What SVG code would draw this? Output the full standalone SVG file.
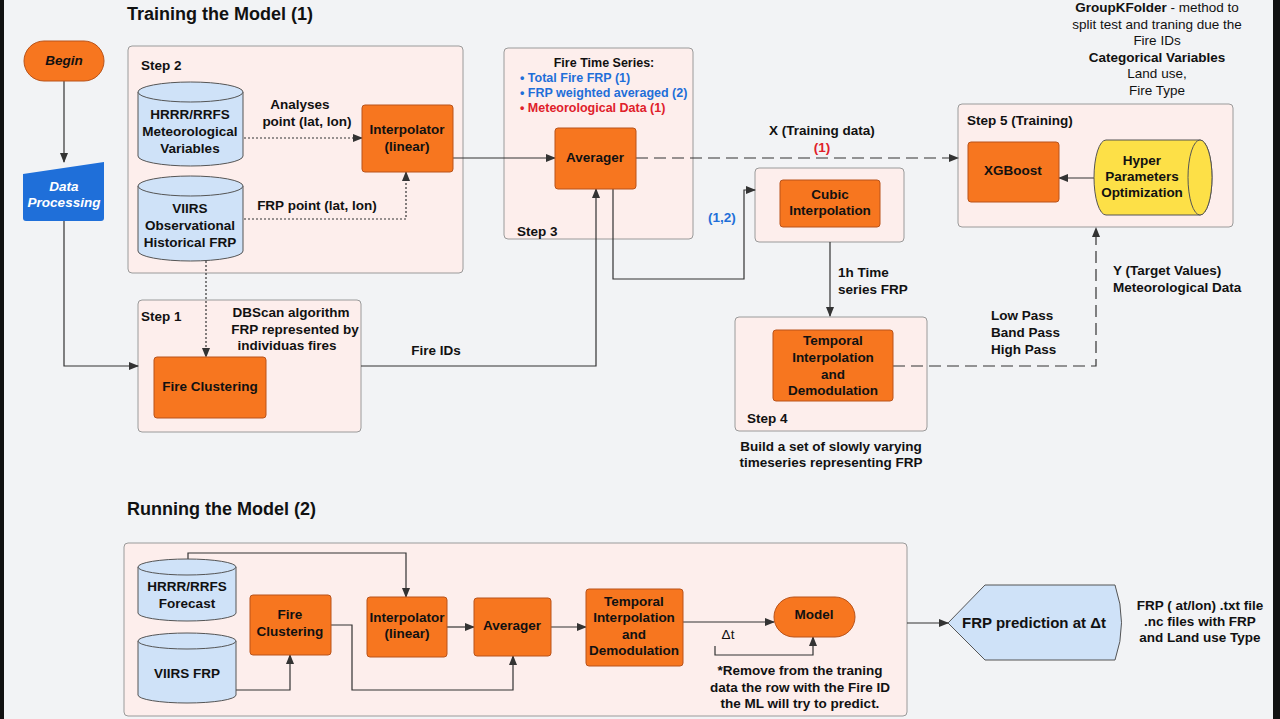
<svg xmlns="http://www.w3.org/2000/svg" width="1280" height="719" viewBox="0 0 1280 719">
<style>
text{font-family:"Liberation Sans",Arial,sans-serif;font-weight:bold;font-size:13.5px;fill:#111}
.c{text-anchor:middle}
text.n,tspan.n{font-weight:normal}
.box{fill:#fdeeec;stroke:#9a9a9a;stroke-width:1}
.or{fill:#f7761f;stroke:#b9531a;stroke-width:1}
.cy{fill:#cfe2f8;stroke:#555;stroke-width:1}
.ln{fill:none;stroke:#333;stroke-width:1.2}
.dot{stroke-dasharray:2 2}
.dash{stroke-dasharray:12 6}
text.t{font-size:18px}
text.s{font-size:12.5px}
</style>
<defs>
<marker id="a" markerWidth="10" markerHeight="8" refX="9" refY="4" orient="auto" markerUnits="userSpaceOnUse"><path d="M0,0 L10,4 L0,8 z" fill="#333"/></marker>
</defs>
<rect width="1280" height="719" fill="#f2f3f5"/>
<rect x="0" y="0" width="4" height="719" fill="#111"/>
<rect x="1273" y="0" width="7" height="719" fill="#111"/>

<text class="t" x="127" y="20">Training the Model (1)</text>
<text class="t" x="127" y="515">Running the Model (2)</text>

<g id="step2"><rect class="box" x="128" y="46" width="335" height="227" rx="4"/><text x="141" y="70">Step 2</text></g>
<g id="step3"><rect class="box" x="504" y="48" width="189" height="191" rx="4"/><text x="517" y="236">Step 3</text>
<text class="c s" x="604" y="67">Fire Time Series:</text>
<text class="s" x="520" y="82" style="fill:#1f6fd9">• Total Fire FRP (1)</text>
<text class="s" x="520" y="97" style="fill:#1f6fd9">• FRP weighted averaged (2)</text>
<text class="s" x="520" y="112" style="fill:#e0202a">• Meteorological Data (1)</text></g>
<g id="step1"><rect class="box" x="138" y="300" width="223" height="132" rx="4"/><text x="141" y="321">Step 1</text></g>
<g id="cubicbox"><rect class="box" x="755" y="168" width="149" height="74" rx="4"/></g>
<g id="step4"><rect class="box" x="735" y="317" width="192" height="114" rx="4"/><text x="747" y="423">Step 4</text></g>
<g id="step5"><rect class="box" x="958" y="104" width="275" height="123" rx="4"/><text x="967" y="125">Step 5 (Training)</text></g>
<g id="runbox"><rect class="box" x="124" y="543" width="783" height="173" rx="4"/></g>

<g id="connectors">
<path class="ln" d="M64,81 V162" marker-end="url(#a)"/>
<path class="ln" d="M64,221 V366 H138" marker-end="url(#a)"/>
<path class="ln dot" d="M244,138 H362" marker-end="url(#a)"/>
<path class="ln dot" d="M244,219 H406 V172" marker-end="url(#a)"/>
<path class="ln dot" d="M206,261 V357" marker-end="url(#a)"/>
<path class="ln" d="M453,158 H555" marker-end="url(#a)"/>
<path class="ln dash" d="M636,158 H958" marker-end="url(#a)"/>
<path class="ln" d="M613,189 V279 H744 V190 H755" marker-end="url(#a)"/>
<path class="ln" d="M830,242 V316" marker-end="url(#a)"/>
<path class="ln dash" d="M893,366 H1096 V228" marker-end="url(#a)"/>
<path class="ln" d="M1095,178 H1059" marker-end="url(#a)"/>
<path class="ln" d="M361,366 H596 V189" marker-end="url(#a)"/>
<path class="ln" d="M188,560 V553 H406 V597" marker-end="url(#a)"/>
<path class="ln" d="M236,690 H290 V655" marker-end="url(#a)"/>
<path class="ln" d="M331,625 H352 V690 H513 V656" marker-end="url(#a)"/>
<path class="ln" d="M447,627 H474" marker-end="url(#a)"/>
<path class="ln" d="M551,627 H586" marker-end="url(#a)"/>
<path class="ln" d="M683,622 H774" marker-end="url(#a)"/>
<path class="ln" d="M715,646 V655 H813 V637" marker-end="url(#a)"/>
<path class="ln" d="M907,623 H948" marker-end="url(#a)"/>
</g>

<g id="labels">
<text class="c" x="300" y="109">Analyses</text>
<text class="c" x="307" y="126">point (lat, lon)</text>
<text class="c" x="317" y="210">FRP point (lat, lon)</text>
<text class="c" x="822" y="135">X (Training data)</text>
<text class="c" x="822" y="152" style="fill:#e0202a">(1)</text>
<text class="c" x="722" y="222" style="fill:#1f6fd9">(1,2)</text>
<text x="838" y="277">1h Time</text>
<text x="838" y="294">series FRP</text>
<text class="c" x="831" y="451">Build a set of slowly varying</text>
<text class="c" x="831" y="467">timeseries representing FRP</text>
<text x="991" y="320">Low Pass</text>
<text x="991" y="337">Band Pass</text>
<text x="991" y="354">High Pass</text>
<text x="1113" y="275">Y (Target Values)</text>
<text x="1113" y="292">Meteorological Data</text>
<text class="c" x="291" y="317">DBScan algorithm</text>
<text class="c" x="295" y="334">FRP represented by</text>
<text class="c" x="287" y="350">individuas fires</text>
<text class="c" x="436" y="355">Fire IDs</text>
<text class="c" x="1157" y="12">GroupKFolder<tspan class="n"> - method to</tspan></text>
<text class="c n" x="1157" y="29">split test and traning due the</text>
<text class="c n" x="1157" y="45">Fire IDs</text>
<text class="c" x="1157" y="62">Categorical Variables</text>
<text class="c n" x="1157" y="78">Land use,</text>
<text class="c n" x="1157" y="95">Fire Type</text>
<text class="c n" x="728" y="639">Δt</text>
<text class="c" x="800" y="675">*Remove from the traning</text>
<text class="c" x="800" y="692">data the row with the Fire ID</text>
<text class="c" x="800" y="708">the ML will try to predict.</text>
<text class="c" x="1200" y="610">FRP ( at/lon) .txt file</text>
<text class="c" x="1200" y="626">.nc files with FRP</text>
<text class="c" x="1200" y="642">and Land use Type</text>
</g>

<g id="begin"><rect class="or" x="24" y="41" width="80" height="40" rx="20"/><text class="c" x="64" y="65" font-style="italic">Begin</text></g>
<g id="dataproc"><path d="M23,174 L104,162 V218 a3,3 0 0 1 -3,3 H26 a3,3 0 0 1 -3,-3 z" fill="#1f6fd9"/><text class="c" x="64" y="191" font-style="italic" style="fill:#fff">Data</text><text class="c" x="64" y="207" font-style="italic" style="fill:#fff">Processing</text></g>

<g id="hrrr"><path class="cy" d="M138,92 V156 A52.5,10 0 0 0 243,156 V92"/><ellipse class="cy" cx="190.5" cy="92" rx="52.5" ry="10"/>
<text class="c" x="190" y="119">HRRR/RRFS</text><text class="c" x="190" y="136">Meteorological</text><text class="c" x="190" y="153">Variables</text></g>
<g id="viirs"><path class="cy" d="M138,186 V251 A52.5,10 0 0 0 243,251 V186"/><ellipse class="cy" cx="190.5" cy="186" rx="52.5" ry="10"/>
<text class="c" x="190" y="213">VIIRS</text><text class="c" x="190" y="230">Observational</text><text class="c" x="190" y="247">Historical FRP</text></g>
<g id="interp"><rect class="or" x="362" y="105" width="91" height="67" rx="3"/><text class="c" x="407" y="134">Interpolator</text><text class="c" x="407" y="151">(linear)</text></g>
<g id="averager"><rect class="or" x="555" y="128" width="81" height="61" rx="3"/><text class="c" x="595" y="162">Averager</text></g>
<g id="cubic"><rect class="or" x="780" y="180" width="100" height="47" rx="3"/><text class="c" x="830" y="199">Cubic</text><text class="c" x="830" y="215">Interpolation</text></g>
<g id="temporal"><rect class="or" x="773" y="330" width="120" height="71" rx="3"/><text class="c" x="833" y="345">Temporal</text><text class="c" x="833" y="362">Interpolation</text><text class="c" x="833" y="379">and</text><text class="c" x="833" y="395">Demodulation</text></g>
<g id="fireclust"><rect class="or" x="154" y="357" width="112" height="61" rx="3"/><text class="c" x="210" y="391">Fire Clustering</text></g>
<g id="xgb"><rect class="or" x="968" y="142" width="91" height="60" rx="3"/><text class="c" x="1013" y="175">XGBoost</text></g>
<g id="hyper"><path d="M1106,140 H1200 A12,37.5 0 0 1 1200,215 H1106 A12,37.5 0 0 1 1106,140 z" fill="#fde047" stroke="#555"/><ellipse cx="1200" cy="177.5" rx="12" ry="37.5" fill="#fde047" stroke="#555"/>
<text class="c" x="1142" y="165">Hyper</text><text class="c" x="1142" y="181">Parameters</text><text class="c" x="1142" y="197">Optimization</text></g>

<g id="hrrr2"><path class="cy" d="M138,567 V613 A49,8 0 0 0 236,613 V567"/><ellipse class="cy" cx="187" cy="567" rx="49" ry="8"/><text class="c" x="187" y="591">HRRR/RRFS</text><text class="c" x="187" y="608">Forecast</text></g>
<g id="viirs2"><path class="cy" d="M138,641 V695 A49,8 0 0 0 236,695 V641"/><ellipse class="cy" cx="187" cy="641" rx="49" ry="8"/><text class="c" x="187" y="678">VIIRS FRP</text></g>
<g id="fireclust2"><rect class="or" x="250" y="595" width="81" height="60" rx="3"/><text class="c" x="290" y="619">Fire</text><text class="c" x="290" y="636">Clustering</text></g>
<g id="interp2"><rect class="or" x="367" y="597" width="80" height="60" rx="3"/><text class="c" x="407" y="622">Interpolator</text><text class="c" x="407" y="638">(linear)</text></g>
<g id="avg2"><rect class="or" x="474" y="598" width="77" height="58" rx="3"/><text class="c" x="512" y="630">Averager</text></g>
<g id="temp2"><rect class="or" x="586" y="589" width="97" height="77" rx="3"/><text class="c" x="634" y="606">Temporal</text><text class="c" x="634" y="622">Interpolation</text><text class="c" x="634" y="639">and</text><text class="c" x="634" y="655">Demodulation</text></g>
<g id="model"><rect class="or" x="774" y="597" width="81" height="40" rx="20"/><text class="c" x="814" y="619">Model</text></g>
<g id="pred"><path d="M948,623 L985,585 H1115 Q1128,623 1115,660 H985 z" fill="#cfe2f8" stroke="#555"/><text class="c" x="1034" y="628" style="font-size:15px">FRP prediction at Δt</text></g>
</svg>
